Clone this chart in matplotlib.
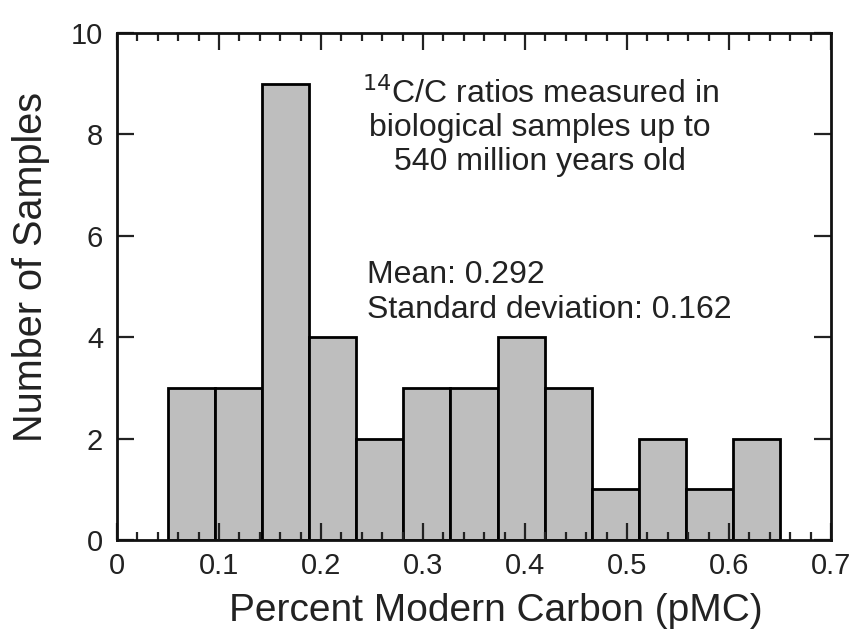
import numpy as np
import matplotlib
matplotlib.use("Agg")
import matplotlib.pyplot as plt
from matplotlib.ticker import MultipleLocator

plt.rcParams['font.family'] = ['Liberation Sans', 'DejaVu Sans']

# histogram of pMC values (13 equal bins from 0.05 to 0.65)
bin_start = 0.05
bin_end = 0.65
counts = [3, 3, 9, 4, 2, 3, 3, 4, 3, 1, 2, 1, 2]
title_lines = ["$^{14}$C/C ratios measured in", "biological samples up to", "540 million years old"]
stats_lines = ["Mean: 0.292", "Standard deviation: 0.162"]

edges = np.linspace(bin_start, bin_end, len(counts) + 1)
widths = np.diff(edges)

fig = plt.figure(figsize=(8.58, 6.3), dpi=100)
ax = fig.add_axes([0.1364, 0.1429, 0.8321, 0.8047])

ax.bar(edges[:-1], counts, width=widths, align='edge', color='#bebebe',
       edgecolor='black', linewidth=2.0)

ax.set_xlim(0, 0.7)
ax.set_ylim(0, 10)
ax.xaxis.set_major_locator(MultipleLocator(0.1))
ax.xaxis.set_minor_locator(MultipleLocator(0.02))
ax.yaxis.set_major_locator(MultipleLocator(2))
ax.xaxis.set_major_formatter(plt.FuncFormatter(lambda v, p: "0" if abs(v) < 1e-9 else f"{v:.1f}"))

ax.tick_params(which='both', direction='in', top=True, right=True, width=1.6,
               labelsize=21, colors='#222222', labelcolor='#222222')
ax.tick_params(which='major', length=12)
ax.tick_params(axis='x', which='major', pad=9)
ax.tick_params(axis='y', which='major', pad=10)
ax.tick_params(which='minor', length=6)
for s in ax.spines.values():
    s.set_linewidth(2.0)
    s.set_color('#111111')

ax.set_xlabel("Percent Modern Carbon (pMC)", fontsize=28, labelpad=9, color='#222222')
ax.set_ylabel("Number of Samples", fontsize=28.5, labelpad=15, color='#222222')
ax.xaxis.label.set_x(0.531)
ax.yaxis.label.set_y(0.538)

ax.text(0.415, 8.15, "\n".join(title_lines), ha='center', va='center',
        fontsize=23, linespacing=1.15, color='#222222')
ax.text(0.245, 4.88, "\n".join(stats_lines), ha='left', va='center',
        fontsize=23, linespacing=1.22, color='#222222')

fig.savefig("out.png", dpi=100)
